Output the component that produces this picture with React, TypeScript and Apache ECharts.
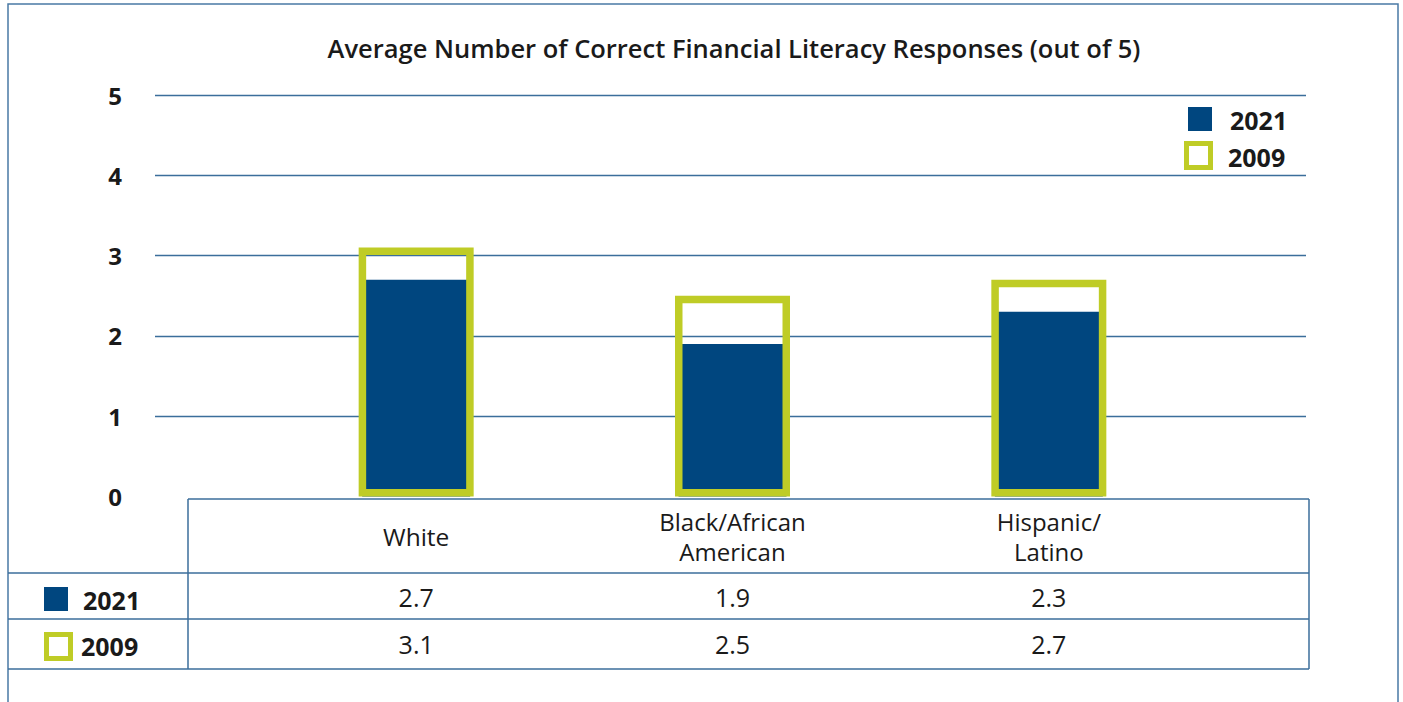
import React, { useEffect, useRef } from "react";
import * as echarts from "echarts";

// Chart content
const TITLE = "Average Number of Correct Financial Literacy Responses (out of 5)";
const categories = ["White", "Black/African\nAmerican", "Hispanic/\nLatino"];
const seriesNames = ["2021", "2009"];
const values2021 = [2.7, 1.9, 2.3];
const values2009 = [3.1, 2.5, 2.7];

const NAVY = "#00467f";
const LIME = "#bfcc26";
const LINE = "#3b6e9b";
const TEXT = "#1a1a1a";
const FONT = "'Open Sans', 'Noto Sans', sans-serif";

export default function App() {
  const ref = useRef<HTMLDivElement>(null);

  useEffect(() => {
    const chart = echarts.init(ref.current!, null, { renderer: "svg" });

    const hLine = (x1: number, x2: number, y: number) => ({
      type: "line",
      z: 0,
      shape: { x1, y1: y, x2, y2: y },
      style: { stroke: LINE, lineWidth: 1.5 },
    });
    const vLine = (x: number, y1: number, y2: number) => ({
      type: "line",
      z: 0,
      shape: { x1: x, y1, x2: x, y2 },
      style: { stroke: LINE, lineWidth: 1.5 },
    });
    const filledKey = (x: number, y: number) => ({
      type: "rect",
      shape: { x, y, width: 24, height: 24 },
      style: { fill: NAVY },
    });
    const outlineKey = (x: number, y: number) => ({
      type: "rect",
      shape: { x, y, width: 24, height: 24 },
      style: { fill: "#fff", stroke: LIME, lineWidth: 5 },
    });
    const keyText = (text: string, x: number, y: number) => ({
      type: "text",
      x,
      y,
      style: {
        text,
        fontFamily: FONT,
        fontWeight: "bold",
        fontSize: 25,
        fill: TEXT,
        textAlign: "left",
        textVerticalAlign: "middle",
      },
    });

    // single-line headers sit mid-cell, two-line headers fill it
    const headerFormatter = (v: string) =>
      v.includes("\n")
        ? v
            .split("\n")
            .map((s) => `{two|${s}}`)
            .join("\n")
        : `{one|${v}}`;

    const rowAxis = (offset: number, values: number[]) => ({
      gridIndex: 1,
      type: "category",
      data: categories,
      position: "bottom",
      offset,
      axisLine: { show: false },
      axisTick: { show: false },
      axisLabel: {
        interval: 0,
        margin: 0,
        fontFamily: FONT,
        fontSize: 25,
        lineHeight: 30,
        color: TEXT,
        formatter: (_v: string, i: number) => values[i].toFixed(1),
      },
    });

    const option = {
      animation: false,
      backgroundColor: "#fff",
      textStyle: { fontFamily: FONT },
      grid: [
        { left: 155, right: 97, top: 95, bottom: 205.5 },
        { left: 258, right: 196, top: 95, bottom: 205.5 },
      ],
      xAxis: [
        { gridIndex: 0, type: "category", data: categories, show: false },
        {
          gridIndex: 1,
          type: "category",
          data: categories,
          position: "bottom",
          axisLine: { show: false },
          axisTick: { show: false },
          axisLabel: {
            interval: 0,
            margin: 9.5,
            formatter: headerFormatter,
            rich: {
              one: { fontFamily: FONT, fontSize: 24.5, lineHeight: 60, color: TEXT },
              two: { fontFamily: FONT, fontSize: 24, lineHeight: 30, color: TEXT },
            },
          },
        },
        rowAxis(85, values2021),
        rowAxis(132, values2009),
      ],
      yAxis: [
        {
          gridIndex: 0,
          type: "value",
          min: 0,
          max: 5,
          interval: 1,
          axisLine: { show: false },
          axisTick: { show: false },
          axisLabel: {
            margin: 33,
            fontFamily: FONT,
            fontWeight: "bold",
            fontSize: 24,
            color: TEXT,
          },
          splitLine: {
            show: true,
            showMinLine: false,
            lineStyle: { color: LINE, width: 1.3 },
          },
        },
        { gridIndex: 1, type: "value", min: 0, max: 5, show: false, splitLine: { show: false } },
      ],
      series: [
        {
          name: seriesNames[0],
          type: "bar",
          xAxisIndex: 2,
          yAxisIndex: 1,
          data: values2021,
          barWidth: 108,
          itemStyle: { color: NAVY },
          z: 2,
        },
        {
          name: seriesNames[1],
          type: "bar",
          xAxisIndex: 3,
          yAxisIndex: 1,
          data: values2009,
          barWidth: 115,
          itemStyle: { color: "rgba(0,0,0,0)", borderColor: LIME, borderWidth: 7.5 },
          z: 3,
        },
      ],
      graphic: [
        {
          type: "rect",
          z: 0,
          shape: { x: 8, y: 4, width: 1390, height: 760 },
          style: { fill: "none", stroke: "#4a7aa5", lineWidth: 1.5 },
        },
        {
          type: "text",
          x: 734,
          y: 48,
          style: {
            text: TITLE,
            fontFamily: FONT,
            fontWeight: 600,
            fontSize: 25.5,
            fill: TEXT,
            textAlign: "center",
            textVerticalAlign: "middle",
          },
        },
        // top-right key
        filledKey(1188, 107),
        keyText(seriesNames[0], 1230, 120),
        outlineKey(1186.5, 143.5),
        keyText(seriesNames[1], 1228, 157),
        // data table rules
        hLine(188, 1309, 499),
        hLine(8, 1309, 573),
        hLine(8, 1309, 619),
        hLine(8, 1309, 669),
        vLine(188, 499, 669),
        vLine(1309, 499, 669),
        // row keys
        filledKey(44, 587),
        keyText(seriesNames[0], 83, 600),
        outlineKey(46.5, 634.5),
        keyText(seriesNames[1], 81, 646),
      ],
    };

    chart.setOption(option as any);
    return () => chart.dispose();
  }, []);

  return (
    <div
      ref={ref}
      style={{ position: "fixed", left: 0, top: 0, width: 1403, height: 702, background: "#fff" }}
    />
  );
}
